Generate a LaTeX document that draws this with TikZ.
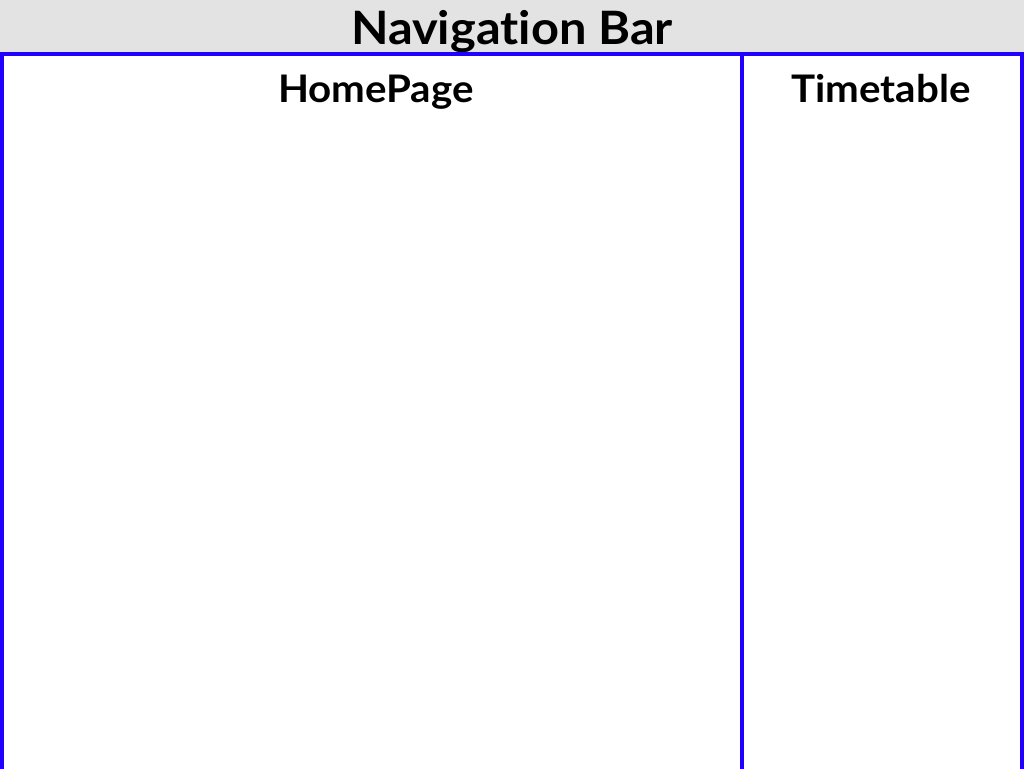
\documentclass[tikz,border=0pt]{standalone}
\usepackage{fontspec}
\setmainfont{Lato}[FakeStretch=1.06,Ligatures=NoCommon]
\definecolor{navgray}{HTML}{E3E3E3}
\definecolor{frameblue}{HTML}{2200FF}

\begin{document}
\begin{tikzpicture}[x=0.75pt,y=-0.75pt,
  frame/.style={draw=frameblue,line width=3pt},
  title/.style={font=\bfseries,text=black,inner sep=0pt,anchor=base}]
\useasboundingbox (0,0) rectangle (1024,768);
\clip (0,0) rectangle (1024,768);
% navigation bar
\fill[navgray] (0,0) rectangle (1024,53);
\node[title,font=\bfseries\fontsize{34.5}{38}\selectfont] (navbar) at (512,44) {Navigation Bar};
% page frames
\coordinate (hpTop) at (2,54);
\coordinate (hpBot) at (742,800);
\coordinate (ttTop) at (742,54);
\coordinate (ttBot) at (1022,800);
\draw[frame] (hpTop) rectangle (hpBot);
\draw[frame] (ttTop) rectangle (ttBot);
\node[title,font=\bfseries\fontsize{28.5}{31}\selectfont] (homepage) at (376,102) {HomePage};
\node[title,font=\bfseries\fontsize{28.5}{31}\selectfont] (timetable) at (881,102) {Timetable};
\end{tikzpicture}
\end{document}
